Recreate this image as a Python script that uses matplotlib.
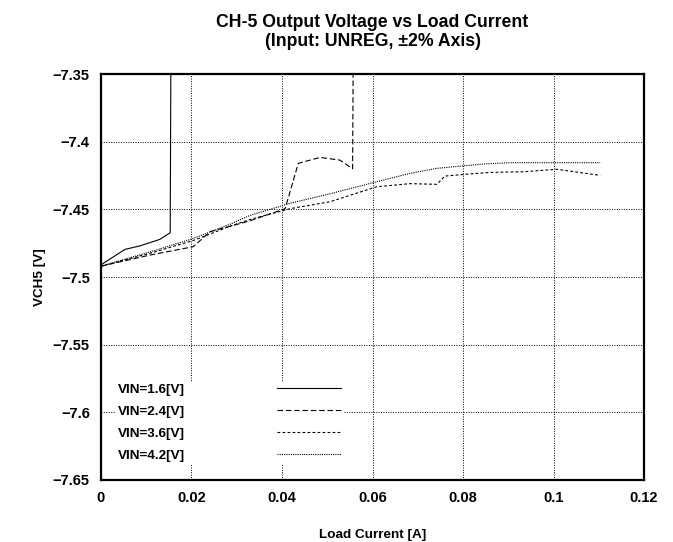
import matplotlib
matplotlib.use("Agg")
import matplotlib.pyplot as plt

# load current [A] and VCH5 [V] per input voltage (values above -7.35 run off the top)
x_16 = [0.0, 0.0053, 0.0086, 0.0130, 0.0153, 0.0155]
y_16 = [-7.491, -7.4796, -7.477, -7.4722, -7.4673, -7.30]

x_24 = [0.0, 0.0108, 0.0204, 0.0241, 0.0329, 0.0407, 0.0436, 0.0484, 0.0528, 0.0556, 0.0558]
y_24 = [-7.492, -7.4838, -7.4776, -7.4665, -7.4585, -7.4495, -7.416, -7.4116, -7.4136, -7.4200, -7.30]

x_36 = [0.0, 0.0108, 0.0204, 0.0285, 0.0329, 0.0418, 0.0506, 0.0609, 0.0683, 0.0742,
        0.0760, 0.0812, 0.0860, 0.0933, 0.1007, 0.1029, 0.1103]
y_36 = [-7.492, -7.4825, -7.4730, -7.4625, -7.4575, -7.4495, -7.4444, -7.4333, -7.4310, -7.4315,
        -7.4254, -7.4239, -7.4227, -7.4222, -7.4204, -7.4214, -7.4249]

x_42 = [0.0, 0.0108, 0.0204, 0.0285, 0.0329, 0.0418, 0.0500, 0.0609, 0.0683, 0.0742,
        0.0844, 0.0904, 0.1103]
y_42 = [-7.492, -7.4815, -7.4715, -7.4610, -7.4545, -7.4455, -7.4390, -7.4296, -7.4234, -7.4197,
        -7.4165, -7.4155, -7.4155]

labels = ["VIN=1.6[V]", "VIN=2.4[V]", "VIN=3.6[V]", "VIN=4.2[V]"]
x_ticks = [0, 0.02, 0.04, 0.06, 0.08, 0.1, 0.12]
x_tick_labels = ["0", "0.02", "0.04", "0.06", "0.08", "0.1", "0.12"]
y_ticks = [-7.65, -7.6, -7.55, -7.5, -7.45, -7.4, -7.35]
y_tick_labels = ["\u22127.65", "\u22127.6", "\u22127.55", "\u22127.5", "\u22127.45", "\u22127.4", "\u22127.35"]

plt.rcParams["font.family"] = ["Liberation Sans", "DejaVu Sans"]
plt.rcParams["font.weight"] = "bold"

fig = plt.figure(figsize=(6.73, 5.42), dpi=100)
ax = fig.add_axes([0.150, 0.1144, 0.807, 0.749])

ax.plot(x_16, y_16, color="black", lw=0.8, linestyle="-", label=labels[0])
ax.plot(x_24, y_24, color="black", lw=0.8, linestyle=(0, (5, 2.5)), label=labels[1])
ax.plot(x_36, y_36, color="black", lw=0.8, linestyle=(0, (2.5, 2)), label=labels[2])
ax.plot(x_42, y_42, color="black", lw=0.8, linestyle=(0, (1, 1)), label=labels[3])

ax.set_xlim(0, 0.12)
ax.set_ylim(-7.65, -7.35)
ax.set_xticks(x_ticks)
ax.set_xticklabels(x_tick_labels)
ax.set_yticks(y_ticks)
ax.set_yticklabels(y_tick_labels)
ax.tick_params(axis="both", length=0, labelsize=10.5, pad=8)
ax.grid(True, color="black", linestyle=(0, (1, 1.5)), lw=0.7)
for s in ax.spines.values():
    s.set_linewidth(1.6)

ax.set_title("CH-5 Output Voltage vs Load Current\n(Input: UNREG, \u00b12% Axis)",
             fontsize=12.7, fontweight="bold", pad=20, linespacing=1.2)
ax.set_xlabel("Load Current [A]", fontsize=9.7, fontweight="bold", labelpad=17)
ax.set_ylabel("VCH5 [V]", fontsize=9.7, fontweight="bold", labelpad=5)

leg = ax.legend(loc="upper left", bbox_to_anchor=(0.026, 0.245), borderaxespad=0,
                markerfirst=False, handlelength=4.8, handletextpad=6.8, labelspacing=0.72,
                borderpad=0.2, fontsize=9.7, frameon=True, fancybox=False)
leg.get_frame().set_facecolor("white")
leg.get_frame().set_edgecolor("none")
leg.get_frame().set_alpha(1)
for t in leg.get_texts():
    t.set_fontweight("bold")

fig.savefig("out.png", dpi=100)
